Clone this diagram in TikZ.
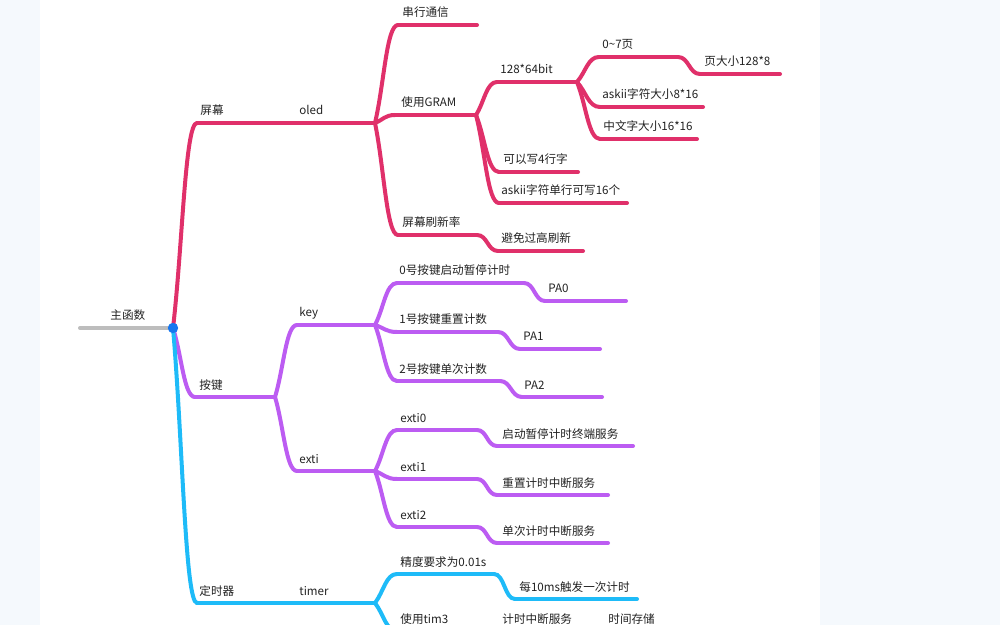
\documentclass[tikz,border=0pt]{standalone}
\usepackage{fontspec}
\setmainfont{Noto Sans CJK SC}
\usetikzlibrary{calc}
\definecolor{bgc}{HTML}{F5F9FD}
\definecolor{cred}{HTML}{E0306A}
\definecolor{cpur}{HTML}{BC5CF2}
\definecolor{cblu}{HTML}{1EBBF8}
\definecolor{cgry}{HTML}{BDBDBD}
\definecolor{cdot}{HTML}{1677F0}
\definecolor{ctxt}{HTML}{222222}
\tikzset{
 ln/.style={line width=2pt, line cap=round},
 lbl/.style={anchor=base west, inner sep=0pt, text=ctxt, font=\fontsize{5.8pt}{7pt}\selectfont},
 branch/.style={to path={.. controls ($(\tikztostart)!0.4!(\tikztotarget)$) and ($(\tikztotarget)!0.5!(\tikztostart|-\tikztotarget)$) .. (\tikztotarget)}},
 scurve/.style={to path={.. controls ($(\tikztostart)!0.5!(\tikztotarget|-\tikztostart)$) and ($(\tikztotarget)!0.5!(\tikztostart|-\tikztotarget)$) .. (\tikztotarget)}},
}
\newcommand\topic[7]{%
 \coordinate (#1s) at (#3,#5); \coordinate (#1e) at (#4,#5);
 \draw[ln,#2] (#1s) -- (#1e);
 \node[lbl] (#1) at (#6,#5-8) {#7};}
\begin{document}
\begin{tikzpicture}[x=0.5pt,y=-0.5pt]
\useasboundingbox (0,0) rectangle (1000,625);
\fill[bgc] (0,0) rectangle (1000,625);
\fill[white] (40,0) rectangle (820,625);
\begin{scope}
\clip (0,0) rectangle (1000,625);
% root
\coordinate (rootS) at (80,328);
\coordinate (root) at (173,328);
\draw[ln,cgry] (rootS) -- (root);
\node[lbl] (main) at (110,320) {主函数};
% red branch
\topic{pm}{cred}{197}{295}{123}{200}{屏幕}
\topic{oled}{cred}{295}{375}{123}{299}{oled}
\topic{cx}{cred}{398}{477}{25}{402}{串行通信}
\topic{gram}{cred}{395}{476}{115}{401}{使用GRAM}
\topic{sx}{cred}{398}{477}{235}{402}{屏幕刷新率}
\topic{bm}{cred}{498}{583}{251}{501}{避免过高刷新}
\topic{bit}{cred}{497}{577}{82}{500}{128*64bit}
\topic{kx}{cred}{499}{578}{172}{503}{可以写4行字}
\topic{ad}{cred}{499}{627}{203}{501}{askii字符单行可写16个}
\topic{ye}{cred}{599}{678}{57}{602}{0\textasciitilde7页}
\topic{ydx}{cred}{700}{780}{74}{704}{页大小128*8}
\topic{asz}{cred}{600}{703}{107}{602}{askii字符大小8*16}
\topic{zw}{cred}{600}{697}{139}{603}{中文字大小16*16}
\draw[ln,cred] (root) to[branch] (pms);
\draw[ln,cred] (olede) to[branch] (cxs);
\draw[ln,cred] (olede) to[branch] (grams);
\draw[ln,cred] (olede) to[branch] (sxs);
\draw[ln,cred] (sxe) to[scurve] (bms);
\draw[ln,cred] (grame) to[branch] (bits);
\draw[ln,cred] (grame) to[branch] (kxs);
\draw[ln,cred] (grame) to[branch] (ads);
\draw[ln,cred] (bite) to[branch] (yes);
\draw[ln,cred] (bite) to[branch] (aszs);
\draw[ln,cred] (bite) to[branch] (zws);
\draw[ln,cred] (yee) to[scurve] (ydxs);
% purple branch
\topic{aj}{cpur}{195}{275}{397}{199}{按键}
\topic{key}{cpur}{297}{375}{325}{299}{key}
\topic{ex}{cpur}{297}{375}{471}{299}{exti}
\topic{ka}{cpur}{397}{524}{283}{399}{0号按键启动暂停计时}
\topic{pa}{cpur}{545}{626}{301}{548}{PA0}
\topic{kb}{cpur}{397}{498}{332}{399}{1号按键重置计数}
\topic{pb}{cpur}{520}{600}{349}{523}{PA1}
\topic{kc}{cpur}{397}{500}{381}{399}{2号按键单次计数}
\topic{pc}{cpur}{522}{602}{397}{524}{PA2}
\topic{ea}{cpur}{397}{477}{430}{400}{exti0}
\topic{fa}{cpur}{497}{633}{446}{502}{启动暂停计时终端服务}
\topic{eb}{cpur}{397}{477}{479}{400}{exti1}
\topic{fb}{cpur}{497}{608}{495}{502}{重置计时中断服务}
\topic{ec}{cpur}{397}{477}{527}{400}{exti2}
\topic{fc}{cpur}{497}{608}{543}{502}{单次计时中断服务}
\draw[ln,cpur] (root) to[branch] (ajs);
\draw[ln,cpur] (aje) to[branch] (keys);
\draw[ln,cpur] (aje) to[branch] (exs);
\draw[ln,cpur] (keye) to[branch] (kas);
\draw[ln,cpur] (keye) to[branch] (kbs);
\draw[ln,cpur] (keye) to[branch] (kcs);
\draw[ln,cpur] (kae) to[scurve] (pas);
\draw[ln,cpur] (kbe) to[scurve] (pbs);
\draw[ln,cpur] (kce) to[scurve] (pcs);
\draw[ln,cpur] (exe) to[branch] (eas);
\draw[ln,cpur] (exe) to[branch] (ebs);
\draw[ln,cpur] (exe) to[branch] (ecs);
\draw[ln,cpur] (eae) to[scurve] (fas);
\draw[ln,cpur] (ebe) to[scurve] (fbs);
\draw[ln,cpur] (ece) to[scurve] (fcs);
% blue branch
\topic{ds}{cblu}{197}{295}{603}{199}{定时器}
\topic{tm}{cblu}{295}{375}{603}{299}{timer}
\topic{jd}{cblu}{397}{494}{574}{400}{精度要求为0.01s}
\topic{mc}{cblu}{515}{637}{599}{519}{每10ms触发一次计时}
\topic{tim}{cblu}{397}{497}{631}{400}{使用tim3}
\topic{zd}{cblu}{497}{600}{631}{502}{计时中断服务}
\topic{cc}{cblu}{600}{670}{631}{608}{时间存储}
\draw[ln,cblu] (root) to[branch] (dss);
\draw[ln,cblu] (tme) to[branch] (jds);
\draw[ln,cblu] (tme) to[branch] (tims);
\draw[ln,cblu] (jde) to[scurve] (mcs);
\fill[cdot] (root) circle (2.6pt);
\end{scope}
\end{tikzpicture}
\end{document}
